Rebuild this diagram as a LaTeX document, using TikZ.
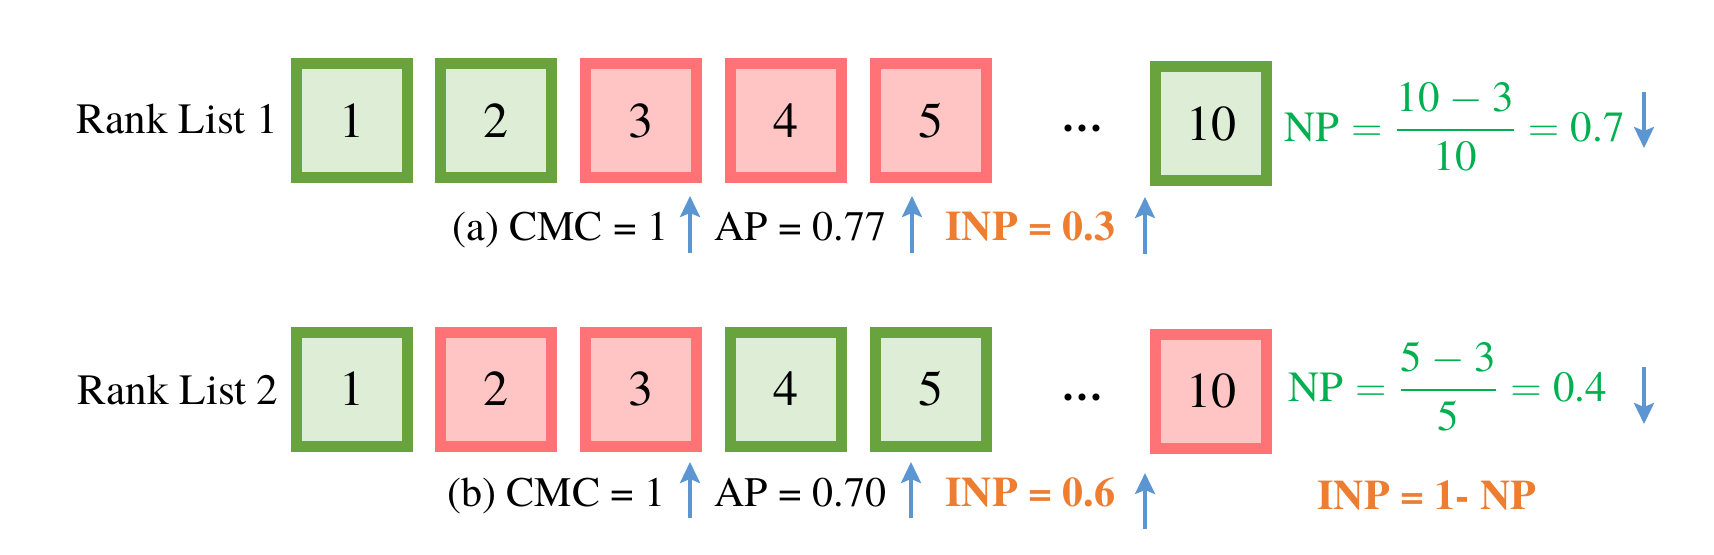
\RequirePackage{fix-cm}
\documentclass[tikz,border=0pt]{standalone}
\usepackage{amsmath}
\usepackage{fontspec}
\setmainfont{TeX Gyre Termes}
\usetikzlibrary{arrows.meta}
\definecolor{gbord}{HTML}{69A33E}
\definecolor{gfill}{HTML}{DEEDD5}
\definecolor{rbord}{HTML}{FF7276}
\definecolor{rfill}{HTML}{FFC5C5}
\definecolor{npgreen}{HTML}{00B050}
\definecolor{inporange}{HTML}{ED7D31}
\definecolor{arrblue}{HTML}{5B96D3}
\begin{document}
\begin{tikzpicture}[x=0.5pt,y=-0.5pt,
  box/.style={rectangle,minimum width=55.5pt,minimum height=57pt,inner sep=0pt,
    line width=5.5pt,font=\fontsize{25}{30}\selectfont},
  gbox/.style={box,draw=gbord,fill=gfill},
  rbox/.style={box,draw=rbord,fill=rfill},
  lbl/.style={inner sep=0pt,font=\fontsize{21}{25}\selectfont},
  rank/.style={inner sep=0pt,font=\fontsize{21.6}{25}\selectfont},
  dotsl/.style={inner sep=0pt,font=\fontsize{21}{25}\selectfont\bfseries},
  inp/.style={inner sep=0pt,text=inporange,font=\fontsize{21}{25}\selectfont\bfseries},
  np/.style={inner sep=0pt,text=npgreen,font=\fontsize{21.5}{25}\selectfont},
  arr/.style={draw=arrblue,line width=1.75pt,-{Stealth[length=10.5pt,width=10pt,inset=2pt]}}]
\useasboundingbox (0,0) rectangle (1714,554);
% ---- Row 1
\node[rank,anchor=base east] (rl1) at (278,133) {Rank List 1};
\node[gbox] (a1) at (352,120.5) {1};
\node[gbox] (a2) at (496,120.5) {2};
\node[rbox] (a3) at (641,120.5) {3};
\node[rbox] (a4) at (786,120.5) {4};
\node[rbox] (a5) at (931,120.5) {5};
\node[dotsl] (adots) at (1082,128) {…};
\node[gbox] (a10) at (1211,123.5) {10};
\node[np,anchor=base west] (np1) at (1284,141) {$\mathrm{NP}=\dfrac{\text{10}-\text{3}}{\text{10}}=\text{0.7}$};
\node[lbl,anchor=base west] (acmc) at (452,240) {(a) CMC = 1};
\node[lbl,anchor=base west] (aap) at (714,240) {AP = 0.77};
\node[inp,anchor=base west] (ainp) at (945,240) {INP = 0.3};
\coordinate (au1s) at (690,253); \coordinate (au1e) at (690,196);
\coordinate (au2s) at (912,253); \coordinate (au2e) at (912,196);
\coordinate (au3s) at (1145,254); \coordinate (au3e) at (1145,197);
\coordinate (ad1s) at (1644,92); \coordinate (ad1e) at (1644,148);
\draw[arr] (au1s) -- (au1e);
\draw[arr] (au2s) -- (au2e);
\draw[arr] (au3s) -- (au3e);
\draw[arr] (ad1s) -- (ad1e);
% ---- Row 2
\node[rank,anchor=base east] (rl2) at (279,404) {Rank List 2};
\node[gbox] (b1) at (352,389) {1};
\node[rbox] (b2) at (496,389) {2};
\node[rbox] (b3) at (641,389) {3};
\node[gbox] (b4) at (786,389) {4};
\node[gbox] (b5) at (931,389) {5};
\node[dotsl] (bdots) at (1082,397) {…};
\node[rbox] (b10) at (1211,391) {10};
\node[np,anchor=base west] (np2) at (1288,401) {$\mathrm{NP}=\dfrac{\text{5}-\text{3}}{\text{5}}=\text{0.4}$};
\node[lbl,anchor=base west] (bcmc) at (447,506) {(b) CMC = 1};
\node[lbl,anchor=base west] (bap) at (714,506) {AP = 0.70};
\node[inp,anchor=base west] (binp) at (945,506) {INP = 0.6};
\node[inp,anchor=base west] (inpdef) at (1317,509) {INP = 1- NP};
\coordinate (bu1s) at (690,518); \coordinate (bu1e) at (690,462);
\coordinate (bu2s) at (911,518); \coordinate (bu2e) at (911,462);
\coordinate (bu3s) at (1145,529); \coordinate (bu3e) at (1145,473);
\coordinate (bd1s) at (1644,367); \coordinate (bd1e) at (1644,424);
\draw[arr] (bu1s) -- (bu1e);
\draw[arr] (bu2s) -- (bu2e);
\draw[arr] (bu3s) -- (bu3e);
\draw[arr] (bd1s) -- (bd1e);
\end{tikzpicture}
\end{document}
